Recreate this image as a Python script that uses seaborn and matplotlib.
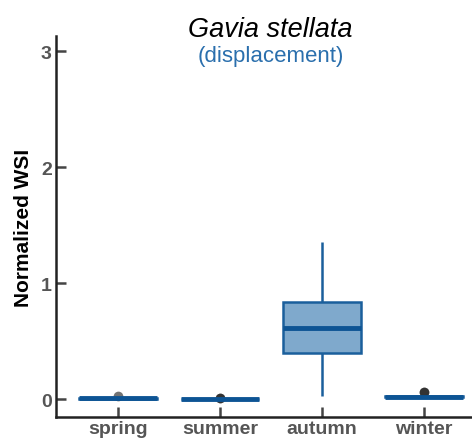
import numpy as np
import pandas as pd
import matplotlib
matplotlib.use("Agg")
import matplotlib.pyplot as plt
import seaborn as sns

# Normalized WSI samples per season
seasons = ["spring", "summer", "autumn", "winter"]
spring = [0.0, 0.002, 0.004, 0.006, 0.008, 0.03]
summer = [-0.002, -0.001, 0.0, 0.0, 0.0, 0.0, 0.001, 0.001, 0.002, 0.002, 0.012, 0.012]
autumn = [0.03, 0.40, 0.61, 0.84, 1.35]
winter = [0.015, 0.017, 0.018, 0.02, 0.02, 0.022, 0.023, 0.025, 0.06, 0.06]
yticks = [0, 1, 2, 3]

sns.set_theme(style="white")
plt.rcParams["font.family"] = ["Liberation Sans", "DejaVu Sans"]

df = pd.DataFrame({
    "season": np.repeat(seasons, [len(spring), len(summer), len(autumn), len(winter)]),
    "wsi": spring + summer + autumn + winter,
})

fig = plt.figure(figsize=(4.72, 4.39), dpi=100)
ax = fig.add_axes([0.1186, 0.0478, 0.8814, 0.868])

fill = "#7fa9cc"
edge = "#1a5f9c"
sns.boxplot(
    data=df, x="season", y="wsi", order=seasons, ax=ax,
    color=fill, linecolor=edge, saturation=1, width=0.76, linewidth=1.8,
    showcaps=False,
    medianprops=dict(color="#0d5494", linewidth=3.5),
    flierprops=dict(marker="o", markerfacecolor="black", markeredgecolor="none",
                    alpha=0.55, markersize=7),
)

ax.set_ylim(-0.155, 3.13)
ax.set_xlim(-0.61, 3.47)
ax.set_yticks(yticks)
ax.set_xlabel("")
ax.set_ylabel("Normalized WSI", fontsize=15, fontweight="bold", color="black", labelpad=6)

for s in ["top", "right"]:
    ax.spines[s].set_visible(False)
for s in ["left", "bottom"]:
    ax.spines[s].set_color("#222222")
    ax.spines[s].set_linewidth(1.8)

ax.tick_params(axis="both", direction="in", length=7, width=1.8, color="#444444",
               labelsize=14, labelcolor="#555555", pad=3, left=True, bottom=True)
ax.tick_params(axis="x", pad=2)
for lab in ax.get_xticklabels() + ax.get_yticklabels():
    lab.set_fontweight("bold")

fig.text(0.573, 0.932, "Gavia stellata", ha="center", va="center",
         fontsize=19.5, fontstyle="italic", color="black")
fig.text(0.573, 0.872, "(displacement)", ha="center", va="center",
         fontsize=16, color="#2a6fad")

fig.savefig("out.png", dpi=100)
